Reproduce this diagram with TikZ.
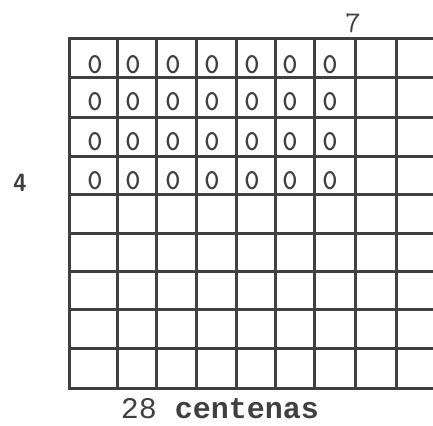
\documentclass[tikz,border=0pt]{standalone}
\usepackage{fontspec}
\newfontfamily\monof{Liberation Mono}
\definecolor{ink}{RGB}{64,64,64}
\tikzset{
  gridline/.style={draw=ink, line width=3pt, line cap=rect},
  zero/.style={text=ink, font=\ttfamily\bfseries\fontsize{29}{29}\selectfont, inner sep=0pt},
  lbl/.style={text=ink, inner sep=0pt}
}
\begin{document}
\begin{tikzpicture}[x=1pt,y=-1pt]
\useasboundingbox (0,0) rectangle (433,425);
% horizontal lines
\foreach \y in {38.5,78,117,156,194,233,271,309,348,388}
  \draw[gridline] (69,\y) -- (433,\y);
% vertical lines
\foreach \x in {69,117,156,196,236,275,314,355,396}
  \draw[gridline] (\x,38.5) -- (\x,388);
% zeros
\foreach \c [count=\i] in {95,133,173,212,252,290,330}
  \foreach \r [count=\j] in {65,102,142,181}
    \node[zero] (z\i\j) at (\c,\r) {0};
% labels
\node[lbl, font=\ttfamily\fontsize{30}{30}\selectfont] (seven) at (353,23) {7};
\node[lbl, font=\sffamily\bfseries\fontsize{25}{25}\selectfont] (four) at (20,183) {4};
\node[lbl, font=\monof\fontsize{30}{30}\selectfont, anchor=base] (total) at (220,418) {28 \textbf{centenas}};
\end{tikzpicture}
\end{document}
